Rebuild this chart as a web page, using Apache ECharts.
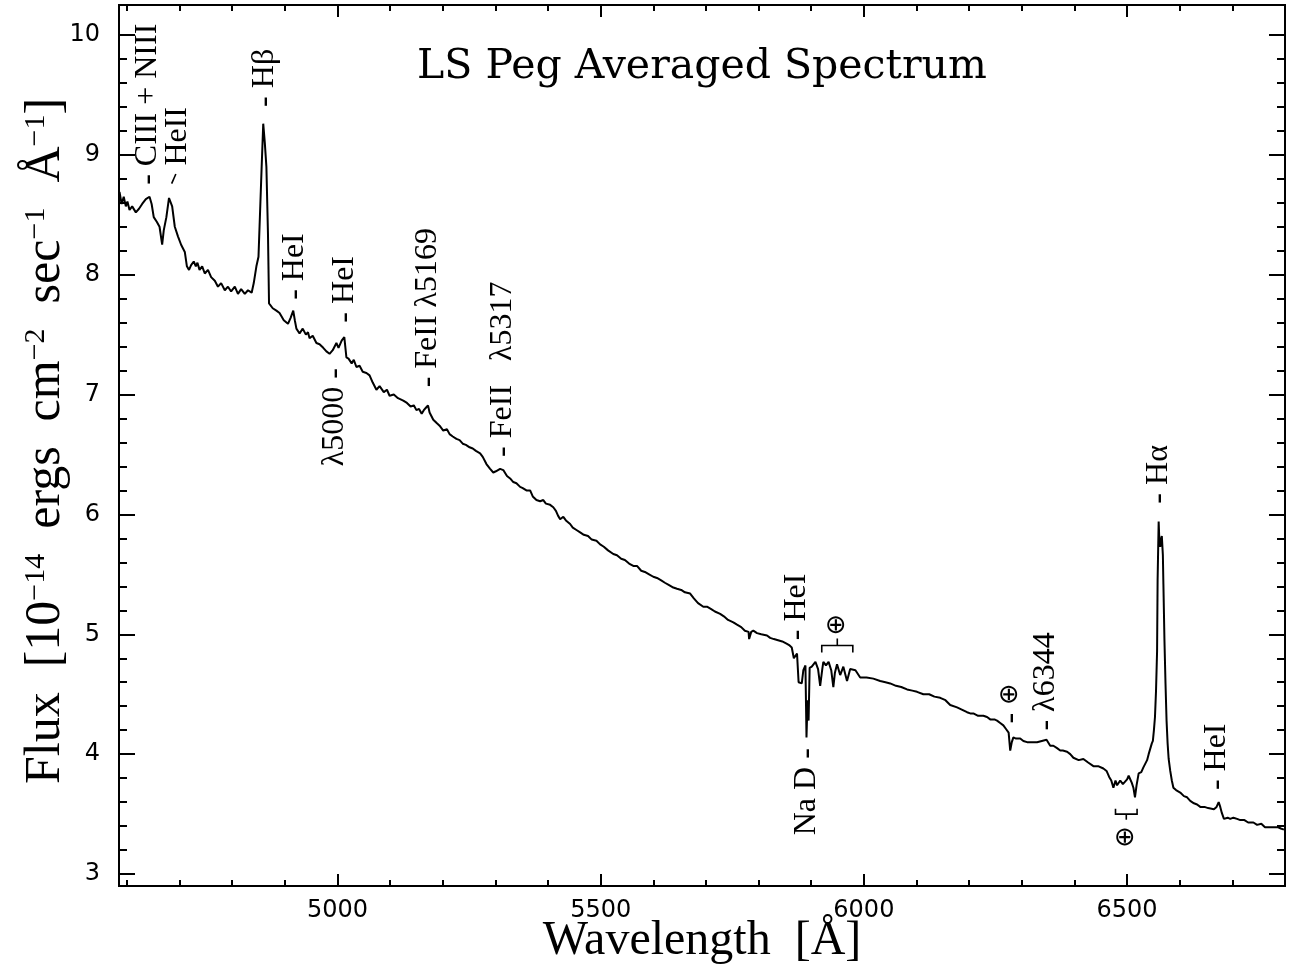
<!DOCTYPE html>
<html>
<head>
<meta charset="utf-8">
<title>LS Peg Averaged Spectrum</title>
<script src="https://cdn.jsdelivr.net/npm/echarts@6/dist/echarts.min.js"></script>
<style>
  html, body { margin: 0; padding: 0; background: #fff; }
  #chart { width: 1294px; height: 976px; }
</style>
</head>
<body>
<div id="chart"></div>
<script>
// Averaged spectrum: wavelength (Angstrom) and flux (1e-14 erg cm^-2 s^-1 A^-1)
const wave = [
  4586, 4590, 4594, 4598, 4601, 4605, 4610, 4617, 4623, 4629, 4636, 4643, 4647, 4651, 4657, 4662,
  4667, 4670, 4675, 4680, 4682, 4686, 4691, 4697, 4703, 4710, 4714, 4718, 4722, 4727, 4731, 4734,
  4738, 4743, 4748, 4754, 4760, 4767, 4773, 4779, 4786, 4792, 4798, 4805, 4811, 4817, 4824, 4830,
  4837, 4841, 4846, 4850, 4856, 4859, 4862, 4865, 4868, 4870, 4877, 4884, 4890, 4898, 4906, 4911,
  4916, 4919, 4922, 4928, 4934, 4940, 4944, 4947, 4953, 4960, 4966, 4973, 4979, 4985, 4991, 4998,
  5002, 5004, 5008, 5013, 5017, 5021, 5027, 5031, 5036, 5042, 5048, 5055, 5061, 5067, 5074, 5080,
  5088, 5094, 5099, 5107, 5115, 5125, 5132, 5139, 5145, 5150, 5155, 5160, 5164, 5168, 5172, 5175,
  5182, 5189, 5194, 5201, 5208, 5213, 5219, 5226, 5232, 5238, 5244, 5251, 5257, 5263, 5271, 5276,
  5283, 5290, 5296, 5301, 5309, 5315, 5322, 5328, 5334, 5340, 5347, 5352, 5359, 5366, 5371, 5378,
  5385, 5391, 5396, 5404, 5410, 5415, 5419, 5423, 5429, 5434, 5442, 5447, 5454, 5461, 5468, 5476,
  5483, 5492, 5499, 5506, 5514, 5524, 5531, 5539, 5546, 5554, 5562, 5569, 5577, 5584, 5592, 5600,
  5607, 5615, 5622, 5630, 5638, 5645, 5653, 5660, 5670, 5677, 5685, 5695, 5702, 5710, 5717, 5727,
  5734, 5742, 5752, 5759, 5767, 5774, 5781, 5782, 5786, 5790, 5797, 5805, 5816, 5822, 5829, 5837,
  5845, 5854, 5858, 5863, 5867, 5873, 5876, 5879, 5882, 5885, 5889, 5891, 5893, 5895, 5897, 5901,
  5908, 5913, 5917, 5921, 5923, 5928, 5933, 5938, 5942, 5945, 5949, 5955, 5961, 5968, 5974, 5984,
  5993, 6005, 6018, 6031, 6041, 6050, 6061, 6071, 6082, 6092, 6101, 6113, 6124, 6134, 6145, 6155,
  6164, 6177, 6187, 6196, 6202, 6208, 6217, 6227, 6234, 6240, 6248, 6253, 6259, 6265, 6270, 6275,
  6278, 6281, 6284, 6289, 6297, 6303, 6310, 6316, 6323, 6329, 6338, 6347, 6354, 6360, 6367, 6373,
  6378, 6386, 6392, 6398, 6408, 6417, 6426, 6436, 6445, 6455, 6461, 6466, 6470, 6474, 6478, 6481,
  6487, 6492, 6500, 6503, 6509, 6512, 6515, 6518, 6522, 6527, 6531, 6534, 6538, 6541, 6544, 6547,
  6549, 6551, 6553, 6555, 6557, 6558, 6560, 6561, 6563, 6565, 6566, 6568, 6569, 6571, 6573, 6575,
  6577, 6579, 6582, 6585, 6588, 6593, 6601, 6608, 6614, 6620, 6627, 6633, 6639, 6647, 6654, 6665,
  6670, 6674, 6677, 6680, 6684, 6691, 6696, 6702, 6709, 6715, 6723, 6730, 6740, 6747, 6755, 6762,
  6772, 6779, 6787, 6792, 6798
];
const flux = [
  8.69, 8.59, 8.65, 8.57, 8.61, 8.54, 8.57, 8.52, 8.55, 8.59, 8.63, 8.65, 8.59, 8.48, 8.44, 8.40,
  8.25, 8.37, 8.48, 8.64, 8.65, 8.57, 8.40, 8.32, 8.25, 8.19, 8.07, 8.04, 8.08, 8.11, 8.07, 8.10,
  8.04, 8.07, 8.01, 8.04, 7.98, 7.95, 7.90, 7.93, 7.87, 7.90, 7.86, 7.90, 7.84, 7.88, 7.84, 7.87,
  7.85, 7.93, 8.07, 8.15, 8.90, 9.26, 9.10, 8.90, 8.34, 7.76, 7.72, 7.70, 7.68, 7.62, 7.59, 7.64,
  7.70, 7.62, 7.55, 7.51, 7.55, 7.50, 7.52, 7.47, 7.49, 7.43, 7.42, 7.39, 7.36, 7.34, 7.37, 7.43,
  7.39, 7.40, 7.45, 7.48, 7.31, 7.30, 7.26, 7.29, 7.23, 7.24, 7.19, 7.18, 7.16, 7.10, 7.04, 7.07,
  7.02, 7.04, 6.99, 7.00, 6.97, 6.95, 6.93, 6.90, 6.91, 6.87, 6.88, 6.84, 6.87, 6.89, 6.91, 6.85,
  6.79, 6.76, 6.74, 6.70, 6.71, 6.67, 6.65, 6.63, 6.62, 6.59, 6.58, 6.56, 6.55, 6.53, 6.51, 6.48,
  6.42, 6.38, 6.35, 6.36, 6.38, 6.37, 6.32, 6.30, 6.27, 6.26, 6.23, 6.22, 6.20, 6.20, 6.15, 6.12,
  6.11, 6.12, 6.09, 6.08, 6.06, 6.03, 5.99, 5.96, 5.98, 5.95, 5.92, 5.89, 5.87, 5.85, 5.83, 5.82,
  5.79, 5.78, 5.75, 5.73, 5.70, 5.67, 5.66, 5.63, 5.62, 5.59, 5.57, 5.57, 5.53, 5.52, 5.50, 5.48,
  5.47, 5.45, 5.43, 5.41, 5.39, 5.38, 5.37, 5.35, 5.34, 5.30, 5.26, 5.23, 5.23, 5.21, 5.19, 5.17,
  5.15, 5.12, 5.10, 5.08, 5.06, 5.03, 5.02, 4.96, 5.02, 5.03, 5.01, 5.00, 4.99, 4.97, 4.96, 4.95,
  4.94, 4.92, 4.91, 4.89, 4.80, 4.84, 4.60, 4.59, 4.59, 4.70, 4.74, 4.14, 4.45, 4.28, 4.72, 4.73,
  4.77, 4.71, 4.57, 4.71, 4.77, 4.74, 4.77, 4.70, 4.56, 4.68, 4.75, 4.66, 4.73, 4.61, 4.71, 4.70,
  4.64, 4.64, 4.63, 4.61, 4.60, 4.59, 4.57, 4.56, 4.54, 4.53, 4.52, 4.50, 4.50, 4.48, 4.47, 4.45,
  4.41, 4.39, 4.37, 4.35, 4.34, 4.34, 4.32, 4.32, 4.31, 4.29, 4.29, 4.28, 4.26, 4.24, 4.21, 4.18,
  4.03, 4.10, 4.14, 4.13, 4.13, 4.11, 4.10, 4.10, 4.10, 4.10, 4.11, 4.12, 4.07, 4.07, 4.05, 4.03,
  4.03, 4.02, 4.00, 3.97, 3.95, 3.96, 3.93, 3.90, 3.90, 3.88, 3.86, 3.81, 3.78, 3.72, 3.78, 3.74,
  3.78, 3.75, 3.79, 3.82, 3.76, 3.72, 3.64, 3.74, 3.84, 3.85, 3.89, 3.88, 3.95, 4.00, 4.01, 4.09,
  4.11, 4.20, 4.31, 4.53, 4.86, 5.45, 5.94, 5.82, 5.73, 5.80, 5.82, 5.66, 5.42, 4.95, 4.59, 4.28,
  4.09, 3.96, 3.86, 3.78, 3.72, 3.70, 3.68, 3.65, 3.64, 3.61, 3.59, 3.58, 3.56, 3.56, 3.55, 3.54,
  3.56, 3.60, 3.56, 3.51, 3.46, 3.47, 3.46, 3.47, 3.46, 3.45, 3.45, 3.43, 3.43, 3.41, 3.42, 3.39,
  3.39, 3.39, 3.39, 3.38, 3.37
];

// Axis ticks
const xMajorTicks = [5000, 5500, 6000, 6500];
const xMinorTicks = [4600, 4700, 4800, 4900, 5100, 5200, 5300, 5400, 5600, 5700, 5800, 5900,
                     6100, 6200, 6300, 6400, 6600, 6700];
const yMajorTicks = [3, 4, 5, 6, 7, 8, 9, 10];
const yMinorTicks = [3.2, 3.4, 3.6, 3.8, 4.2, 4.4, 4.6, 4.8, 5.2, 5.4, 5.6, 5.8, 6.2, 6.4, 6.6, 6.8,
                     7.2, 7.4, 7.6, 7.8, 8.2, 8.4, 8.6, 8.8, 9.2, 9.4, 9.6, 9.8];

// Line identifications: text, wavelength, flux at the end nearest the spectrum
const lineLabels = ['- CIII + NIII', 'HeII', '- H\u03B2', '- HeI', '\u03BB5000 -', '- HeI',
                    '- FeII \u03BB5169', '- FeII   \u03BB5317', '- HeI', 'Na D -', '\u2295',
                    '- \u2295', '- \u03BB6344', '- H\u03B1', '\u2295', '- HeI'];
const labelWave = [4640, 4697, 4861, 4919, 4995, 5014, 5172, 5314, 5873, 5892, 5950,
                   6278, 6345, 6560, 6498, 6671];
const labelFlux = [8.75, 8.91, 9.40, 7.79, 7.22, 7.60, 7.06, 6.48, 4.95, 4.05, 4.99,
                   4.255, 4.197, 6.09, 3.40, 3.70];
const labelSide = ['above', 'above', 'above', 'above', 'below', 'above', 'above', 'above',
                   'above', 'below', 'above', 'above', 'above', 'above', 'below', 'above'];

// Telluric band brackets
const bracketFrom = [5920, 6478];
const bracketTo = [5979, 6519];
const bracketFlux = [4.906, 3.50];
const bracketLegFlux = [4.847, 3.545];
const bracketStemFlux = [4.965, 3.453];

// Pointer for the HeII 4686 label
const pointerWave = [4685, 4693];
const pointerFlux = [8.76, 8.84];

const X_MIN = 4585, X_MAX = 6800, Y_MIN = 2.9, Y_MAX = 10.25;
const INK = '#000';
const SERIF = '"Liberation Serif", "DejaVu Serif", serif';
const WIDE_SERIF = '"DejaVu Serif", serif';
const SANS = '"DejaVu Sans", sans-serif';

function plainNumber(v) { return String(v); }

function xAxisDef(position, ticks, len, withLabels) {
  return {
    type: 'value', position: position, min: X_MIN, max: X_MAX,
    axisLine: { show: true, onZero: false, lineStyle: { color: INK, width: 2 } },
    axisTick: { show: true, inside: true, length: len, customValues: ticks,
                lineStyle: { color: INK, width: 2 } },
    axisLabel: { show: withLabels, customValues: ticks, margin: 13, color: INK,
                 fontFamily: SANS, fontSize: 24, formatter: plainNumber },
    splitLine: { show: false }
  };
}
function yAxisDef(position, ticks, len, withLabels) {
  return {
    type: 'value', position: position, min: Y_MIN, max: Y_MAX,
    axisLine: { show: true, onZero: false, lineStyle: { color: INK, width: 2 } },
    axisTick: { show: true, inside: true, length: len, customValues: ticks,
                lineStyle: { color: INK, width: 2 } },
    axisLabel: { show: withLabels, customValues: ticks, margin: 19, color: INK,
                 fontFamily: SANS, fontSize: 24, formatter: plainNumber },
    splitLine: { show: false }
  };
}

const chart = echarts.init(document.getElementById('chart'), null, { renderer: 'canvas' });

const option = {
  animation: false,
  backgroundColor: '#fff',
  grid: { left: 119, right: 9, top: 5, bottom: 90, containLabel: false },
  xAxis: [
    xAxisDef('bottom', xMajorTicks, 12, true),
    xAxisDef('bottom', xMinorTicks, 6, false),
    xAxisDef('top', xMajorTicks, 12, false),
    xAxisDef('top', xMinorTicks, 6, false)
  ],
  yAxis: [
    yAxisDef('left', yMajorTicks, 16, true),
    yAxisDef('left', yMinorTicks, 8, false),
    yAxisDef('right', yMajorTicks, 16, false),
    yAxisDef('right', yMinorTicks, 8, false)
  ],
  graphic: [
    {
      type: 'text', x: 702, y: 67,
      style: { text: 'LS Peg Averaged Spectrum', fill: INK, fontFamily: WIDE_SERIF, fontSize: 41,
               align: 'center', verticalAlign: 'middle' }
    },
    {
      type: 'text', x: 702, y: 941,
      style: { text: 'Wavelength  [\u00C5]', fill: INK, fontFamily: SERIF, fontSize: 48,
               align: 'center', verticalAlign: 'middle' }
    },
    {
      type: 'text', x: 46, y: 441, rotation: Math.PI / 2,
      style: {
        text: '{m|Flux  [10}{s|\u221214}{m|  ergs  cm}{s|\u22122}{m|  sec}{s|\u22121}{m|  \u00C5}{s|\u22121}{m|]}',
        fill: INK, align: 'center', verticalAlign: 'middle',
        rich: {
          m: { fontFamily: SERIF, fontSize: 50, lineHeight: 50, verticalAlign: 'bottom', fill: INK },
          s: { fontFamily: SERIF, fontSize: 30, lineHeight: 30, verticalAlign: 'top',
               padding: [0, 0, 30, 0], fill: INK }
        }
      }
    }
  ],
  series: [
    {
      type: 'line', name: 'LS Peg',
      xAxisIndex: 0, yAxisIndex: 0,
      data: wave.map((w, i) => [w, flux[i]]),
      showSymbol: false, symbol: 'none',
      lineStyle: { color: INK, width: 2 },
      z: 5
    },
    {
      type: 'line', name: 'HeII pointer',
      xAxisIndex: 0, yAxisIndex: 0,
      data: pointerWave.map((w, i) => [w, pointerFlux[i]]),
      showSymbol: false, symbol: 'none',
      lineStyle: { color: INK, width: 1.6 }
    },
    {
      type: 'custom', name: 'identifications',
      xAxisIndex: 0, yAxisIndex: 0,
      silent: true, clip: false,
      data: labelWave.map((w, i) => [w, labelFlux[i], i]),
      renderItem: function (params, api) {
        const i = api.value(2);
        const p = api.coord([api.value(0), api.value(1)]);
        return {
          type: 'text', x: p[0], y: p[1], rotation: Math.PI / 2,
          style: {
            text: lineLabels[i].replace('\u2295', '{o|\u2295}'),
            fill: INK, fontFamily: SERIF, fontSize: 32,
            align: labelSide[i] === 'below' ? 'right' : 'left',
            verticalAlign: 'middle',
            rich: { o: { fontFamily: SANS, fontSize: 26, fill: INK } }
          }
        };
      }
    },
    {
      type: 'custom', name: 'telluric',
      xAxisIndex: 0, yAxisIndex: 0,
      silent: true, clip: false,
      data: bracketFrom.map((w, i) => [w, bracketTo[i], bracketFlux[i], bracketLegFlux[i], bracketStemFlux[i]]),
      renderItem: function (params, api) {
        const a = api.value(0), b = api.value(1), f = api.value(2), leg = api.value(3), stem = api.value(4);
        const mid = (a + b) / 2;
        const style = { stroke: INK, lineWidth: 1.6, fill: null };
        return {
          type: 'group',
          children: [
            { type: 'polyline', shape: { points: [api.coord([a, leg]), api.coord([a, f]), api.coord([b, f]), api.coord([b, leg])] }, style: style },
            { type: 'polyline', shape: { points: [api.coord([mid, f]), api.coord([mid, stem])] }, style: style }
          ]
        };
      }
    }
  ]
};

chart.setOption(option);
</script>
</body>
</html>
